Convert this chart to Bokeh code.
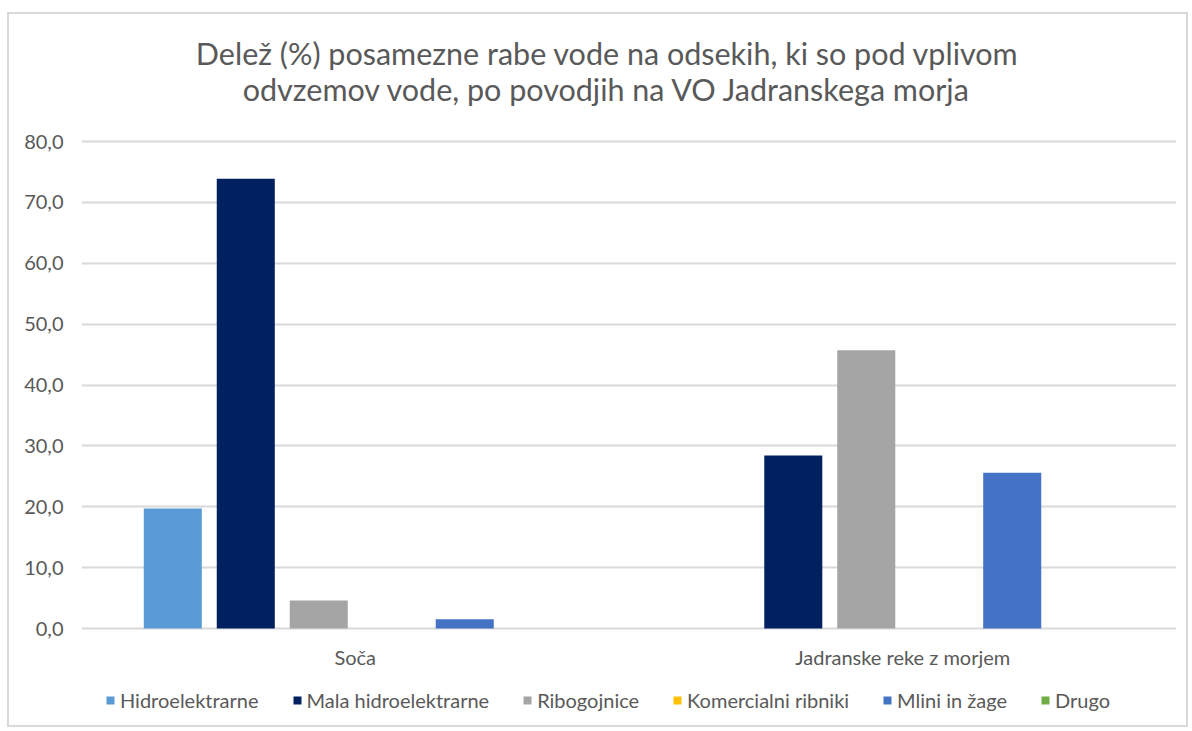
from bokeh.plotting import figure
from bokeh.models import (Range1d, FixedTicker, CustomJSTickFormatter, Legend, LegendItem,
                          Label, ColumnDataSource)
from bokeh.core.properties import value
from bokeh.transform import dodge
from bokeh.embed import file_html
from bokeh.resources import INLINE

# ---- data ----
categories = ["Soča", "Jadranske reke z morjem"]
series_names = ["Hidroelektrarne", "Mala hidroelektrarne", "Ribogojnice",
                "Komercialni ribniki", "Mlini in žage", "Drugo"]
hidroelektrarne = [19.7, 0.0]
mala_hidroelektrarne = [73.9, 28.4]
ribogojnice = [4.6, 45.7]
komercialni_ribniki = [0.0, 0.0]
mlini_in_zage = [1.5, 25.6]
drugo = [0.0, 0.0]
yticks = [0, 10, 20, 30, 40, 50, 60, 70, 80]
title_lines = ["Delež (%) posamezne rabe vode na odsekih, ki so pod vplivom",
               "odvzemov vode, po povodjih na VO Jadranskega morja"]

series_values = [hidroelektrarne, mala_hidroelektrarne, ribogojnice,
                 komercialni_ribniki, mlini_in_zage, drugo]
colors = ["#5B9BD5", "#002060", "#A5A5A5", "#FFC000", "#4472C4", "#70AD47"]

FONT = "Lato"
TXT = "#595959"

src = ColumnDataSource(data={"cat": categories,
                             **{f"s{i}": v for i, v in enumerate(series_values)}})

# the frame is extended above/below the value range so that the title, category
# labels and legend can live inside it (annotations outside the frame get clipped)
PX_PER_UNIT = 487 / 80.0
y_top = 80 + 127 / PX_PER_UNIT
y_bot = -101 / PX_PER_UNIT

p = figure(x_range=categories, y_range=Range1d(y_bot, y_top), width=1181, height=715,
           output_backend="svg", toolbar_location=None, title_location=None,
           x_axis_location=None,
           min_border_left=72, min_border_right=14, min_border_top=0, min_border_bottom=0)
p.styles = {"border": "2px solid #d9d9d9", "margin-top": "12px", "margin-left": "7px"}
p.outline_line_color = None
p.background_fill_color = "white"
p.border_fill_color = "white"

slot = 0.1333
bw = 0.106
items = []
for i, (name, col) in enumerate(zip(series_names, colors)):
    r = p.vbar(x=dodge("cat", (i - 2.5) * slot, range=p.x_range), top=f"s{i}", width=bw,
               source=src, fill_color=col, line_color=None)
    items.append(LegendItem(label=name, renderers=[r]))

# y axis
yax = p.yaxis[0]
yax.ticker = FixedTicker(ticks=yticks)
yax.formatter = CustomJSTickFormatter(code="return tick.toFixed(1).replace('.', ',');")
yax.axis_line_color = None
yax.major_tick_line_color = None
yax.minor_tick_line_color = None
yax.major_tick_in = 0
yax.major_tick_out = 0
yax.major_label_text_font = FONT
yax.major_label_text_font_size = "20px"
yax.major_label_text_color = TXT
yax.major_label_standoff = 18
p.xgrid.grid_line_color = None
p.ygrid.ticker = FixedTicker(ticks=yticks)
p.ygrid.grid_line_color = "#d9d9d9"
p.ygrid.grid_line_width = 2

# category labels under the bars
p.text(x=categories, y=[-4.6] * len(categories), text=categories,
       text_align="center", text_baseline="middle", text_font=value(FONT),
       text_font_size="20px", text_color=TXT)

# title (two lines)
for txt, yy in zip(title_lines, [94.62, 88.6]):
    p.add_layout(Label(x=0.9607, y=yy, text=txt,
                       text_align="center", text_baseline="middle", text_font=FONT,
                       text_font_size="30.5px", text_color=TXT))

legend = Legend(items=items, orientation="horizontal", location=(24, 17),
                border_line_color=None, background_fill_alpha=0,
                label_text_font=FONT, label_text_font_size="20px", label_text_color=TXT,
                glyph_width=10, glyph_height=10, label_standoff=5, spacing=33,
                margin=0, padding=8)
p.add_layout(legend, "center")

open("out.html", "w").write(file_html(p, INLINE))
